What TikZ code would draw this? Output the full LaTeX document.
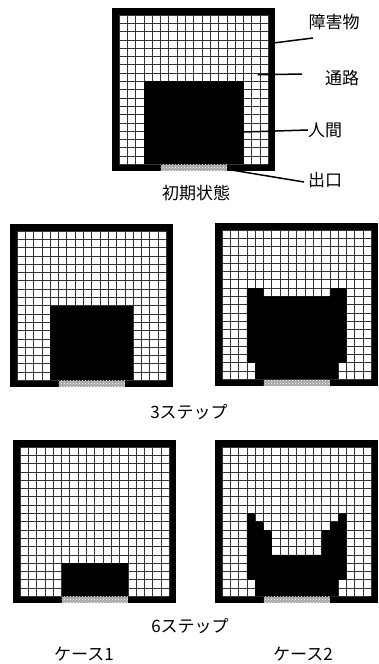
\documentclass[tikz,border=0pt]{standalone}
\usepackage{fontspec}
\newfontfamily\jp{Noto Sans CJK JP}
\usetikzlibrary{patterns}
\newcommand\gridframe{%
  \fill[black] (-0.85,-0.85) rectangle (18.85,18.85);
  \fill[white] (0,0) rectangle (18,18);
  \foreach \i in {0,...,18}{\draw[gl] (\i,0) -- (\i,18); \draw[gl] (0,\i) -- (18,\i);}
}
\newcommand\exitstrip{\fill[exitfill] (5,18.05) rectangle (13,18.78);}
\begin{document}
\begin{tikzpicture}[x=1pt,y=-1pt,
  gl/.style={black!80,line width=0.7pt},
  man/.style={fill=black},
  exitfill/.style={fill=black!35,postaction={pattern=crosshatch dots,pattern color=white}},
  lead/.style={line width=1.5pt,black},
  lbl/.style={font=\jp\fontsize{17}{17}\selectfont,inner sep=0pt},
  gridsc/.style={x=8.3pt,y=-8.3pt}]
\useasboundingbox (0,0) rectangle (379,664);
% initial state
\begin{scope}[shift={(119,15)},gridsc]
  \gridframe
  \fill[man] (3,8) rectangle (15,18);
  \exitstrip
  \coordinate (pobst) at (18.4,3.4);
  \coordinate (ppath) at (16.7,7.2);
  \coordinate (phum) at (14.9,14.1);
  \coordinate (pexit) at (13.7,18.7);
\end{scope}
% 3 steps case 1
\begin{scope}[shift={(17,231)},gridsc]
  \gridframe
  \fill[man] (4,9) rectangle (14,18);
  \exitstrip
\end{scope}
% 3 steps case 2
\begin{scope}[shift={(222,230)},gridsc]
  \gridframe
  \fill[man] (3,7) rectangle (5,8) (13,7) rectangle (15,8)
             (3,8) rectangle (15,16) (4,16) rectangle (14,18);
  \exitstrip
\end{scope}
% 6 steps case 1
\begin{scope}[shift={(20,447)},gridsc]
  \gridframe
  \fill[man] (5,14) rectangle (13,18);
  \exitstrip
\end{scope}
% 6 steps case 2
\begin{scope}[shift={(222,447)},gridsc]
  \gridframe
  \fill[man] (3,8) rectangle (4,9) (14,8) rectangle (15,9)
             (3,9) rectangle (5,10) (13,9) rectangle (15,10)
             (3,10) rectangle (6,13) (12,10) rectangle (15,13)
             (3,13) rectangle (15,16) (4,16) rectangle (14,18);
  \exitstrip
\end{scope}
% labels
\node[lbl] (lobst) at (334,22) {障害物};
\node[lbl] (lpath) at (342,78) {通路};
\node[lbl] (lhum) at (325,130) {人間};
\node[lbl] (lexit) at (325,180) {出口};
\coordinate (eobst) at (313,38);
\coordinate (epath) at (302,74);
\coordinate (eexit) at (304,182);
\draw[lead] (pobst) -- (eobst);
\draw[lead] (ppath) -- (epath);
\draw[lead] (phum) -- (lhum.west);
\draw[lead] (pexit) -- (eexit);
\node[lbl] (cinit) at (196,193) {初期状態};
\node[lbl] (c3) at (189,412) {3ステップ};
\node[lbl] (c6) at (190,626) {6ステップ};
\node[lbl] (k1) at (84,654) {ケース1};
\node[lbl] (k2) at (303,654) {ケース2};
\end{tikzpicture}
\end{document}
